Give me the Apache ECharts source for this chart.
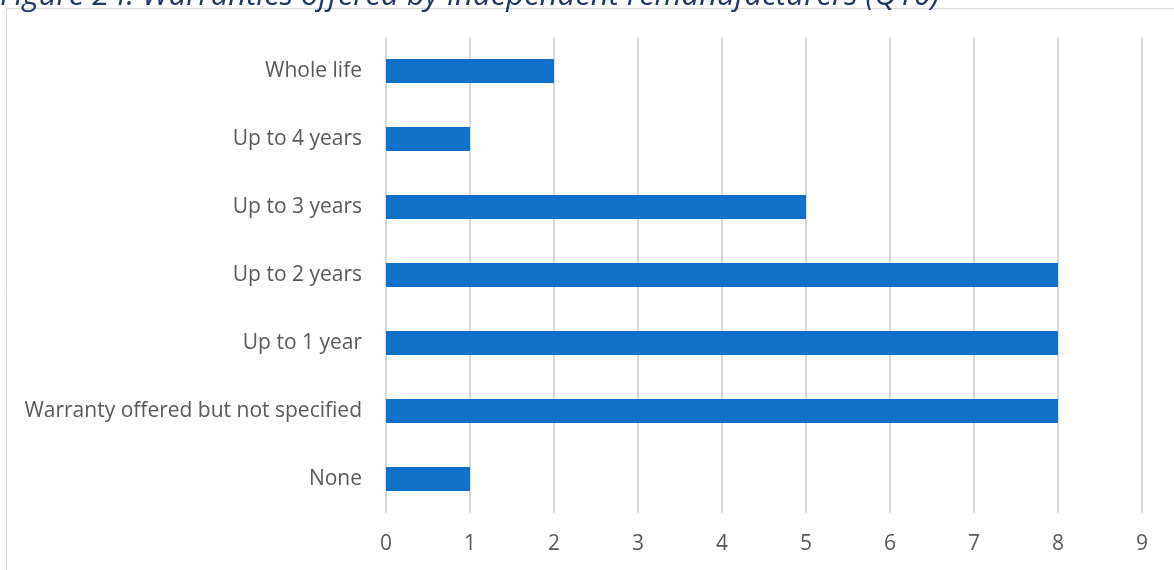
<!DOCTYPE html>
<html>
<head>
<meta charset="utf-8">
<script src="https://cdn.jsdelivr.net/npm/echarts@6/dist/echarts.min.js"></script>
<style>
html,body{margin:0;padding:0;background:#fff;}
#chart{width:1174px;height:570px;}
</style>
</head>
<body>
<div id="chart"></div>
<script>
const titleText = 'Figure 24: Warranties offered by independent remanufacturers (Q10)';
const categories = ['None', 'Warranty offered but not specified', 'Up to 1 year', 'Up to 2 years', 'Up to 3 years', 'Up to 4 years', 'Whole life'];
const values = [1, 8, 8, 8, 5, 1, 2];
const xTicks = [0, 1, 2, 3, 4, 5, 6, 7, 8, 9];

const chart = echarts.init(document.getElementById('chart'), null, {renderer: 'canvas'});
chart.setOption({
  animation: false,
  backgroundColor: '#ffffff',
  graphic: [
    {type: 'rect', shape: {x: 6.5, y: 8.5, width: 1200, height: 600}, style: {fill: 'none', stroke: '#d9d9d9', lineWidth: 1}, silent: true},
    {type: 'text', x: 0, y: 12, style: {text: titleText, font: 'italic 31px "Open Sans"', fill: '#1F3864', verticalAlign: 'bottom', align: 'left'}, silent: true}
  ],
  grid: {left: 386, right: 32, top: 37, bottom: 57, containLabel: false},
  xAxis: {
    type: 'value', min: 0, max: 9, interval: 1,
    axisLine: {show: false}, axisTick: {show: false},
    splitLine: {show: true, lineStyle: {color: '#d9d9d9', width: 2}},
    axisLabel: {color: '#595959', fontSize: 21, fontFamily: 'Open Sans', margin: 21,
      formatter: v => String(xTicks[v] !== undefined ? xTicks[v] : v)}
  },
  yAxis: {
    type: 'category', data: categories,
    axisLine: {show: false}, axisTick: {show: false},
    axisLabel: {color: '#595959', fontSize: 21, fontFamily: 'Open Sans', margin: 24}
  },
  series: [{
    type: 'bar', data: values, barWidth: 24,
    itemStyle: {color: '#1170C8'}
  }]
});
</script>
</body>
</html>
